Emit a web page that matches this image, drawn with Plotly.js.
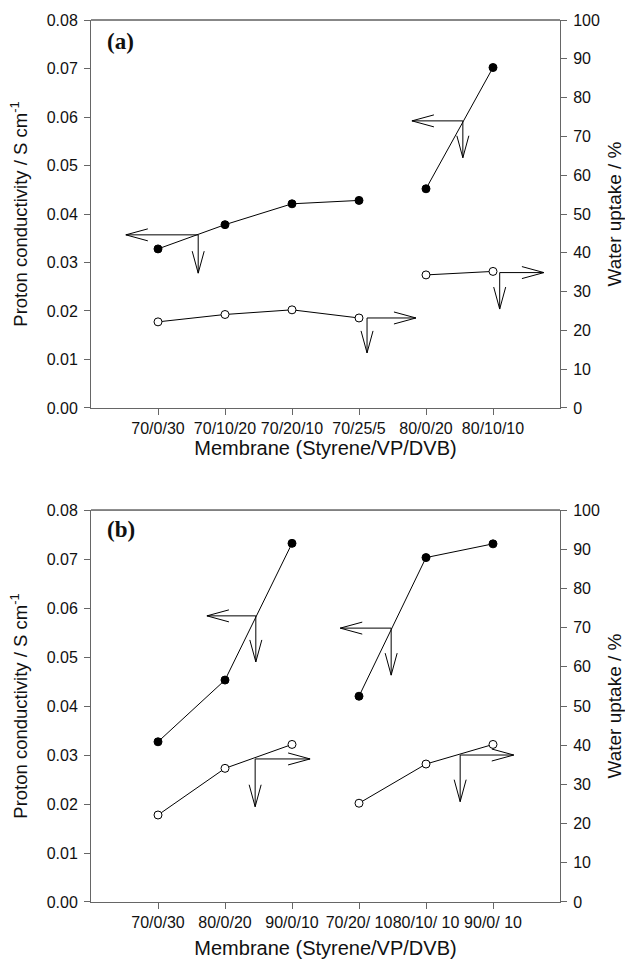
<!DOCTYPE html>
<html>
<head>
<meta charset="utf-8">
<script src="https://cdn.plot.ly/plotly-3.0.1.min.js"></script>
<style>html,body{margin:0;padding:0;background:#fff;}#chart{width:625px;height:960px;}</style>
</head>
<body>
<div id="chart"></div>
<script>
// ---- data ----
const labelsA = ['70/0/30','70/10/20','70/20/10','70/25/5','80/0/20','80/10/10'];
const condA   = [0.0328, 0.0378, 0.0421, 0.0428, 0.0452, 0.0702];
const waterA  = [22.2, 24.1, 25.3, 23.2, 34.3, 35.2];
const groupsA = [[0,1,2,3],[4,5]];

const labelsB = ['70/0/30','80/0/20','90/0/10','70/20/ 10','80/10/ 10','90/0/ 10'];
const condB   = [0.0327, 0.0453, 0.0732, 0.0420, 0.0703, 0.0731];
const waterB  = [22.2, 34.1, 40.2, 25.2, 35.2, 40.2];
const groupsB = [[0,1,2],[3,4,5]];

// axis-indicator arrows: corner (x,y), horizontal tip x, vertical tip y (in the series' own axis units)
const arrowsA = [
  {series:'cond',  x:0.60, y:0.0357, hx:-0.48, vy:0.0278},
  {series:'water', x:3.12, y:23.2,   hx:3.85,  vy:14.2},
  {series:'cond',  x:4.55, y:0.0592, hx:3.79,  vy:0.0516},
  {series:'water', x:5.10, y:34.9,   hx:5.76,  vy:25.5}
];
const arrowsB = [
  {series:'cond',  x:1.46, y:0.0584, hx:0.73,  vy:0.0490},
  {series:'cond',  x:3.48, y:0.0559, hx:2.72,  vy:0.0463},
  {series:'water', x:1.45, y:36.5,   hx:2.27,  vy:24.3},
  {series:'water', x:4.51, y:37.5,   hx:5.31,  vy:25.6}
];

// ---- layout geometry ----
const W = 625, H = 960, M = {l:91, r:65, t:20, b:58};
const plotW = W - M.l - M.r, plotH = H - M.t - M.b;
const domTop = [0.5601, 1], domBot = [0, 0.4444];
const xRange = [-1, 6];
const condRange = [0, 0.08], waterRange = [0, 100];
const FONT = 'Liberation Sans, Arial, sans-serif';

const traces = [];
function addSeries(vals, groups, xa, ya, filled) {
  groups.forEach(g => {
    traces.push({
      type:'scatter', mode:'lines+markers',
      x: g.map(i => i), y: g.map(i => vals[i]),
      xaxis: xa, yaxis: ya, showlegend:false, hoverinfo:'skip',
      line:{color:'#000', width:1},
      marker:{symbol:'circle', size:8, color: filled ? '#000' : '#fff', line:{color:'#000', width:1}}
    });
  });
}
addSeries(condA, groupsA, 'x', 'y', true);
addSeries(waterA, groupsA, 'x', 'y2', false);
addSeries(condB, groupsB, 'x2', 'y3', true);
addSeries(waterB, groupsB, 'x2', 'y4', false);

const shapes = [];
function addArrows(list, xref, yCond, yWater, dom) {
  const ph = plotH * (dom[1] - dom[0]);
  const pxX = plotW / (xRange[1] - xRange[0]);
  list.forEach(a => {
    const yref = a.series === 'cond' ? yCond : yWater;
    const rng = a.series === 'cond' ? condRange : waterRange;
    const pxY = ph / (rng[1] - rng[0]);
    const bl = 22, bw = 6;
    const dir = a.hx < a.x ? 1 : -1; // barbs go back toward the corner
    const hbx = a.hx + dir * bl / pxX;
    const vbx1 = a.x - bw / pxX, vbx2 = a.x + bw / pxX;
    const vby = a.vy + bl / pxY;
    const path = `M ${a.x},${a.y} L ${a.hx},${a.y} ` +
      `M ${hbx},${a.y + bw / pxY} L ${a.hx},${a.y} L ${hbx},${a.y - bw / pxY} ` +
      `M ${a.x},${a.y} L ${a.x},${a.vy} ` +
      `M ${vbx1},${vby} L ${a.x},${a.vy} L ${vbx2},${vby}`;
    shapes.push({type:'path', xref:xref, yref:yref, path:path, line:{color:'#000', width:1}});
  });
}
addArrows(arrowsA, 'x', 'y', 'y2', domTop);
addArrows(arrowsB, 'x2', 'y3', 'y4', domBot);
// top border of each panel
[domTop, domBot].forEach(d => shapes.push({type:'line', xref:'paper', yref:'paper', x0:0, x1:1, y0:d[1], y1:d[1], line:{color:'#111', width:1}}));

const axCommon = {
  showline:true, linecolor:'#666', linewidth:1, ticks:'outside', ticklen:6, tickcolor:'#666',
  showgrid:false, zeroline:false, tickfont:{family:FONT, size:16, color:'#111'}
};
const xTitleFont = {family:FONT, size:20, color:'#111'};
const xTitleA = {text:'Membrane (Styrene/VP/DVB)', font:xTitleFont, standoff:0};
const xTitleB = {text:'Membrane (Styrene/VP/DVB)', font:xTitleFont, standoff:10};
const yLTitle = {text:'Proton conductivity / S cm<sup>-1</sup>', font:{family:FONT, size:18.5, color:'#111'}, standoff:14};
const yRTitle = {text:'Water uptake / %', font:{family:FONT, size:19, color:'#111'}, standoff:10};

const layout = {
  width:W, height:H, margin:M, paper_bgcolor:'#fff', plot_bgcolor:'#fff', showlegend:false,
  xaxis: Object.assign({}, axCommon, {domain:[0,1], range:xRange, anchor:'y', tickangle:0, tickvals:[0,1,2,3,4,5], ticktext:labelsA, title:xTitleA}),
  yaxis: Object.assign({}, axCommon, {domain:domTop, range:condRange, dtick:0.01, tickformat:'.2f', anchor:'x', ticklabelstandoff:3, title:yLTitle}),
  yaxis2: Object.assign({}, axCommon, {overlaying:'y', side:'right', range:waterRange, dtick:10, anchor:'x', ticklabelstandoff:3, title:yRTitle}),
  xaxis2: Object.assign({}, axCommon, {domain:[0,1], range:xRange, anchor:'y3', tickangle:0, tickvals:[0,1,2,3,4,5], ticktext:labelsB, title:xTitleB}),
  yaxis3: Object.assign({}, axCommon, {domain:domBot, range:condRange, dtick:0.01, tickformat:'.2f', anchor:'x2', ticklabelstandoff:3, title:yLTitle}),
  yaxis4: Object.assign({}, axCommon, {overlaying:'y3', side:'right', range:waterRange, dtick:10, anchor:'x2', ticklabelstandoff:3, title:yRTitle}),
  shapes: shapes,
  annotations: [
    {text:'<b>(a)</b>', xref:'paper', yref:'paper', x:0.029, y:1 - (42-20)/plotH, xanchor:'left', yanchor:'middle', showarrow:false, font:{family:'Liberation Serif, Times New Roman, serif', size:23, color:'#111'}},
    {text:'<b>(b)</b>', xref:'paper', yref:'paper', x:0.029, y:(902-529)/plotH, xanchor:'left', yanchor:'middle', showarrow:false, font:{family:'Liberation Serif, Times New Roman, serif', size:23, color:'#111'}}
  ]
};

Plotly.newPlot('chart', traces, layout, {staticPlot:true, displayModeBar:false});
</script>
</body>
</html>
